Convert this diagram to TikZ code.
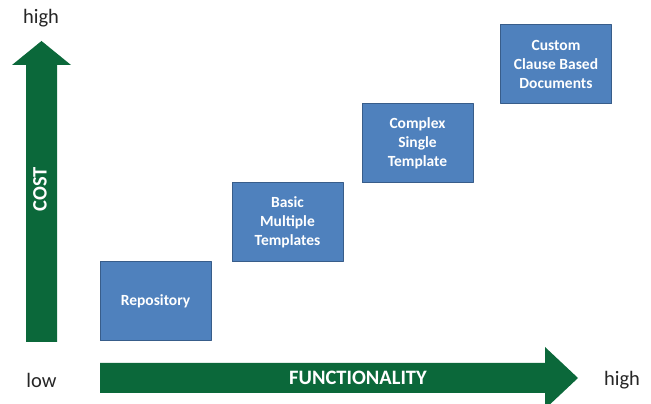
\documentclass[tikz,border=0pt]{standalone}
\usepackage{fontspec}
\setmainfont{Carlito}
\definecolor{arrowgreen}{RGB}{11,104,58}
\definecolor{boxblue}{RGB}{79,129,189}
\definecolor{boxedge}{RGB}{56,93,138}
\begin{document}
\begin{tikzpicture}[x=1pt, y=1pt, line join=round]
	\tikzset{stage/.style={draw=boxedge, line width=1pt, fill=boxblue, minimum width=111pt, minimum height=79pt, inner sep=0pt, align=center, text=white, font=\fontsize{15.5}{19}\selectfont\bfseries},
		axis text/.style={font=\fontsize{20.5}{22}\selectfont, text=black!85},
		arrow text/.style={font=\fontsize{20.5}{22}\selectfont\bfseries, text=white}}
	\useasboundingbox (0,0) rectangle (651,404);
	% the two big arrows
	\fill[arrowgreen] (26,62) -- (26,339) -- (12,339) -- (41.5,363) -- (71,339) -- (57,339) -- (57,62) -- cycle;
	\fill[arrowgreen] (100,11) -- (545,11) -- (545,-5) -- (578,26) -- (545,57) -- (545,41) -- (100,41) -- cycle;
	\node[arrow text, rotate=90] (cost) at (40,215) {COST};
	\node[arrow text] (func) at (358,26) {FUNCTIONALITY};
	\node[axis text] (costhigh) at (41,386) {high};
	\node[axis text] (low) at (41.5,24) {low};
	\node[axis text] (funchigh) at (622,24) {high};
	% stages
	\foreach \n/\x/\y/\t in {rep/155.5/102.5/{Repository},
		basic/287.5/181.5/{Basic\\Multiple\\Templates},
		complex/417.5/260.5/{Complex\\Single\\Template},
		custom/556/339.5/{Custom\\Clause Based\\Documents}}
	\node[stage] (\n) at (\x,\y) {\t};
\end{tikzpicture}
\end{document}
